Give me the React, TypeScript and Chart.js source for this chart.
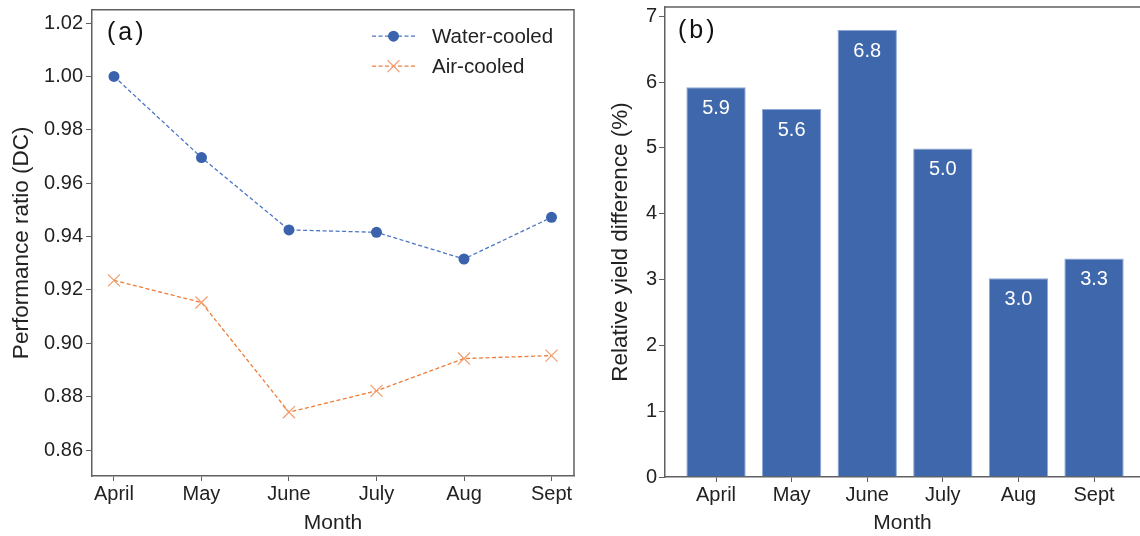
import React, { useEffect, useRef } from "react";
import { Chart, registerables } from "chart.js";
Chart.register(...registerables);

const months = ["April", "May", "June", "July", "Aug", "Sept"];
const waterCooled = [1.0, 0.9696, 0.9425, 0.9416, 0.9316, 0.9472];
const airCooled = [0.9236, 0.9153, 0.8742, 0.8822, 0.8943, 0.8954];
const prTicks = [0.86, 0.88, 0.9, 0.92, 0.94, 0.96, 0.98, 1.0, 1.02];
const yieldDiff = [5.92, 5.59, 6.79, 4.99, 3.02, 3.32];
const yieldTicks = [0, 1, 2, 3, 4, 5, 6, 7];
const seriesNames = ["Water-cooled", "Air-cooled"];

const FONT = "'Liberation Sans', Arial, sans-serif";
const TXT = "#222222";
const AXIS = "#606060";
const BLUE_LINE = "#4A76C4";
const BLUE_PT = "#3B63AD";
const ORANGE_LINE = "#EE7D3A";
const ORANGE_PT = "#F39A6A";
const BAR = "#3F67AB";

function zeroPad(scale: any) {
  scale.paddingTop = 0;
  scale.paddingBottom = 0;
  scale.paddingLeft = 0;
  scale.paddingRight = 0;
}

const framePlugin = (sides: { top: boolean; right: boolean }) => ({
  id: "frame",
  afterDraw(chart: any) {
    const { ctx, chartArea: a } = chart;
    ctx.save();
    ctx.strokeStyle = AXIS;
    ctx.lineWidth = 1.5;
    ctx.beginPath();
    if (sides.top) {
      ctx.moveTo(a.left - 0.75, a.top);
      ctx.lineTo(a.right + 0.75, a.top);
    }
    if (sides.right) {
      ctx.moveTo(a.right, a.top);
      ctx.lineTo(a.right, a.bottom);
    }
    ctx.stroke();
    ctx.restore();
  },
});

const panelLabel = (text: string, dx: number, dy: number) => ({
  id: "panelLabel" + text,
  afterDraw(chart: any) {
    const { ctx, chartArea: a } = chart;
    ctx.save();
    ctx.fillStyle = "#111";
    ctx.font = `25px ${FONT}`;
    (ctx as any).letterSpacing = "3px";
    ctx.textAlign = "left";
    ctx.textBaseline = "middle";
    ctx.fillText(text, a.left + dx, a.top + dy);
    ctx.restore();
  },
});

const legendPlugin = {
  id: "customLegend",
  afterDraw(chart: any) {
    const { ctx, chartArea: a } = chart;
    const x0 = a.right - 202;
    const items = [
      { name: seriesNames[0], line: BLUE_LINE, pt: BLUE_PT, style: "circle", y: a.top + 26.5 },
      { name: seriesNames[1], line: ORANGE_LINE, pt: ORANGE_PT, style: "cross", y: a.top + 56.5 },
    ];
    ctx.save();
    for (const it of items) {
      ctx.strokeStyle = it.line;
      ctx.lineWidth = 1.3;
      ctx.setLineDash([4, 2.5]);
      ctx.beginPath();
      ctx.moveTo(x0, it.y);
      ctx.lineTo(x0 + 43, it.y);
      ctx.stroke();
      ctx.setLineDash([]);
      const cx = x0 + 21.5;
      if (it.style === "circle") {
        ctx.fillStyle = it.pt;
        ctx.beginPath();
        ctx.arc(cx, it.y, 5.5, 0, Math.PI * 2);
        ctx.fill();
      } else {
        ctx.strokeStyle = it.pt;
        ctx.lineWidth = 1.2;
        ctx.beginPath();
        ctx.moveTo(cx - 6, it.y - 6);
        ctx.lineTo(cx + 6, it.y + 6);
        ctx.moveTo(cx - 6, it.y + 6);
        ctx.lineTo(cx + 6, it.y - 6);
        ctx.stroke();
      }
      ctx.fillStyle = TXT;
      ctx.font = `20.5px ${FONT}`;
      ctx.textAlign = "left";
      ctx.textBaseline = "middle";
      ctx.fillText(it.name, x0 + 60, it.y + 1);
    }
    ctx.restore();
  },
};

const barLabelPlugin = {
  id: "barLabels",
  afterDatasetsDraw(chart: any) {
    const { ctx } = chart;
    const meta = chart.getDatasetMeta(0);
    ctx.save();
    ctx.fillStyle = "#ffffff";
    ctx.font = `20px ${FONT}`;
    ctx.textAlign = "center";
    ctx.textBaseline = "middle";
    meta.data.forEach((bar: any, i: number) => {
      ctx.fillText(yieldDiff[i].toFixed(1), bar.x, bar.y + 21);
    });
    ctx.restore();
  },
};

function LeftChart() {
  const ref = useRef<HTMLCanvasElement>(null);
  useEffect(() => {
    const chart = new Chart(ref.current!, {
      type: "line",
      data: {
        datasets: [
          {
            label: seriesNames[0],
            data: waterCooled.map((v, i) => ({ x: i, y: v })),
            borderColor: BLUE_LINE,
            borderWidth: 1.3,
            borderDash: [4, 2.5],
            pointStyle: "circle",
            pointRadius: 5.5,
            pointBackgroundColor: BLUE_PT,
            pointBorderColor: BLUE_PT,
            pointBorderWidth: 0,
            tension: 0,
          },
          {
            label: seriesNames[1],
            data: airCooled.map((v, i) => ({ x: i, y: v })),
            borderColor: ORANGE_LINE,
            borderWidth: 1.3,
            borderDash: [4, 2.5],
            pointStyle: "crossRot",
            pointRadius: 8.5,
            pointBorderColor: ORANGE_PT,
            pointBorderWidth: 1.2,
            tension: 0,
          },
        ],
      },
      options: {
        animation: false,
        responsive: false,
        maintainAspectRatio: false,
        layout: { padding: { top: 7, right: 26, bottom: 0, left: 0 } },
        plugins: { legend: { display: false }, tooltip: { enabled: false } },
        scales: {
          x: {
            type: "linear",
            min: -0.251,
            max: 5.257,
            afterBuildTicks: (s: any) => {
              s.ticks = months.map((_, i) => ({ value: i }));
            },
            afterFit: (s: any) => {
              s.height = 60;
              zeroPad(s);
            },
            ticks: {
              callback: (v: any) => months[Math.round(v)] ?? "",
              color: TXT,
              font: { family: FONT, size: 20 },
              padding: 1,
              maxRotation: 0,
              autoSkip: false,
            },
            grid: { drawOnChartArea: false, drawTicks: true, tickLength: 5, color: AXIS, tickWidth: 1 },
            border: { display: true, color: AXIS, width: 1.5 },
            title: {
              display: true,
              text: "Month",
              color: TXT,
              font: { family: FONT, size: 21 },
              padding: { top: 0, bottom: 0 },
            },
          },
          y: {
            type: "linear",
            min: 0.8503,
            max: 1.025,
            afterBuildTicks: (s: any) => {
              s.ticks = prTicks.map((v) => ({ value: v }));
            },
            afterFit: (s: any) => {
              s.width = 92;
              zeroPad(s);
            },
            ticks: {
              callback: (v: any) => Number(v).toFixed(2),
              color: TXT,
              font: { family: FONT, size: 20 },
              padding: 3,
            },
            grid: { drawOnChartArea: false, drawTicks: true, tickLength: 6, color: AXIS, tickWidth: 1 },
            border: { display: true, color: AXIS, width: 1.5 },
            title: {
              display: true,
              text: "Performance ratio (DC)",
              color: TXT,
              font: { family: FONT, size: 22.5 },
              padding: { top: 8.5, bottom: 0 },
            },
          },
        },
      },
      plugins: [framePlugin({ top: true, right: true }), panelLabel("(a)", 15, 23), legendPlugin],
    } as any);
    return () => chart.destroy();
  }, []);
  return <canvas ref={ref} width={600} height={536} style={{ display: "block", width: 600, height: 536 }} />;
}

function RightChart() {
  const ref = useRef<HTMLCanvasElement>(null);
  useEffect(() => {
    const chart = new Chart(ref.current!, {
      type: "bar",
      data: {
        datasets: [
          {
            label: "Relative yield difference",
            data: yieldDiff.map((v, i) => ({ x: i, y: v })),
            backgroundColor: BAR,
            borderColor: "#8FA8D6",
            borderWidth: 1,
            categoryPercentage: 0.785,
            barPercentage: 1,
          },
        ],
      },
      options: {
        animation: false,
        responsive: false,
        maintainAspectRatio: false,
        layout: { padding: { top: 7, right: 0, bottom: 0, left: 0 } },
        plugins: { legend: { display: false }, tooltip: { enabled: false } },
        scales: {
          x: {
            type: "linear",
            offset: false,
            min: -0.675,
            max: 5.608,
            afterBuildTicks: (s: any) => {
              s.ticks = months.map((_, i) => ({ value: i }));
            },
            afterFit: (s: any) => {
              s.height = 59;
              zeroPad(s);
            },
            ticks: {
              callback: (v: any) => months[Math.round(v)] ?? "",
              color: TXT,
              font: { family: FONT, size: 20 },
              padding: 1,
              maxRotation: 0,
              autoSkip: false,
            },
            grid: { drawOnChartArea: false, drawTicks: true, tickLength: 5, color: AXIS, tickWidth: 1, offset: false },
            border: { display: true, color: AXIS, width: 1.5 },
            title: {
              display: true,
              text: "Month",
              color: TXT,
              font: { family: FONT, size: 21 },
              padding: { top: 0, bottom: 0 },
            },
          },
          y: {
            type: "linear",
            min: 0,
            max: 7.14,
            afterBuildTicks: (s: any) => {
              s.ticks = yieldTicks.map((v) => ({ value: v }));
            },
            afterFit: (s: any) => {
              s.width = 65;
              zeroPad(s);
            },
            ticks: {
              callback: (v: any) => String(v),
              color: TXT,
              font: { family: FONT, size: 20 },
              padding: 2,
            },
            grid: { drawOnChartArea: false, drawTicks: true, tickLength: 6, color: AXIS, tickWidth: 1 },
            border: { display: true, color: AXIS, width: 1.5 },
            title: {
              display: true,
              text: "Relative yield difference (%)",
              color: TXT,
              font: { family: FONT, size: 22.5 },
              padding: { top: 7.5, bottom: 0 },
            },
          },
        },
      },
      plugins: [framePlugin({ top: true, right: false }), panelLabel("(b)", 13, 24), barLabelPlugin],
    } as any);
    return () => chart.destroy();
  }, []);
  return <canvas ref={ref} width={540} height={536} style={{ display: "block", width: 540, height: 536 }} />;
}

export default function App() {
  return (
    <div style={{ position: "fixed", left: 0, top: 0, width: 1140, height: 536, background: "#fff", overflow: "hidden" }}>
      <div style={{ position: "absolute", left: 0, top: 0, width: 600, height: 536 }}>
        <LeftChart />
      </div>
      <div style={{ position: "absolute", left: 600, top: 0, width: 540, height: 536 }}>
        <RightChart />
      </div>
    </div>
  );
}
